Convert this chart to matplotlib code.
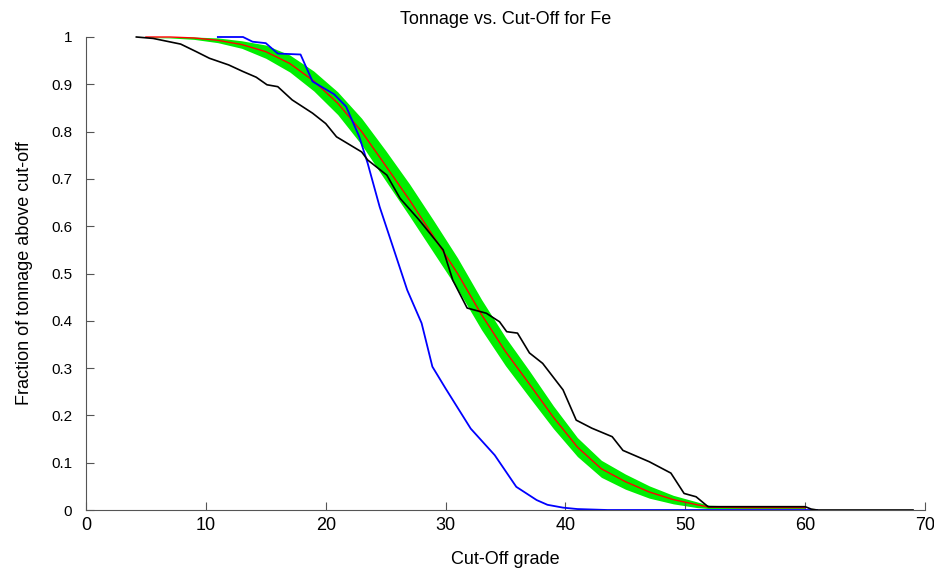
import matplotlib
matplotlib.use("Agg")
import matplotlib.pyplot as plt
from matplotlib import font_manager

# model curve (red) and its simulation band (green)
model_x = [5, 7, 9, 11, 13, 15, 17, 19, 21, 23, 25, 27, 29, 31, 33, 35, 37, 39,
           41, 43, 45, 47, 49, 51, 52, 55, 60]
model_y = [1.000, 1.000, 0.998, 0.993, 0.984, 0.969, 0.944, 0.907, 0.860, 0.800,
           0.728, 0.655, 0.578, 0.500, 0.413, 0.335, 0.266, 0.196, 0.133, 0.087,
           0.060, 0.038, 0.022, 0.011, 0.006, 0.005, 0.005]
band_hi = [1.000, 1.000, 1.000, 0.998, 0.992, 0.983, 0.962, 0.928, 0.884, 0.828,
           0.760, 0.689, 0.612, 0.533, 0.445, 0.365, 0.294, 0.220, 0.153, 0.105,
           0.076, 0.051, 0.031, 0.017, 0.010, 0.008, 0.008]
band_lo = [0.999, 0.998, 0.995, 0.988, 0.976, 0.955, 0.926, 0.886, 0.836, 0.772,
           0.696, 0.621, 0.544, 0.467, 0.381, 0.305, 0.238, 0.172, 0.113, 0.069,
           0.044, 0.025, 0.013, 0.005, 0.003, 0.003, 0.003]

# first data set (black)
black_x = [4.2, 5.6, 7.9, 9.2, 10.3, 11.1, 11.9, 13.1, 14.2, 15.1, 16.0, 17.2,
           18.9, 20.0, 20.9, 23.0, 23.5, 25.1, 26.2, 27.8, 29.8, 30.6, 31.8, 33.4,
           34.5, 35.1, 36.0, 37.0, 38.1, 39.8, 40.9, 42.2, 43.9, 44.8, 47.0, 48.8,
           49.9, 50.9, 51.9, 60.0, 60.5, 61.0, 69.0]
black_y = [1.000, 0.997, 0.985, 0.969, 0.955, 0.948, 0.941, 0.927, 0.915, 0.899,
           0.895, 0.867, 0.839, 0.817, 0.789, 0.757, 0.740, 0.708, 0.659, 0.613,
           0.550, 0.486, 0.427, 0.416, 0.398, 0.377, 0.374, 0.332, 0.310, 0.254,
           0.190, 0.173, 0.155, 0.126, 0.102, 0.078, 0.035, 0.028, 0.007, 0.007,
           0.002, 0.000, 0.000]

# second data set (blue)
blue_x = [11.0, 13.1, 13.9, 15.0, 16.0, 17.9, 18.9, 20.7, 21.7, 22.8, 23.5, 24.5,
          25.6, 26.8, 28.0, 28.9, 30.0, 32.1, 34.1, 35.9, 37.6, 38.5, 39.8, 41.0,
          43.5, 61.0]
blue_y = [1.000, 1.000, 0.990, 0.987, 0.965, 0.963, 0.906, 0.879, 0.853, 0.789,
          0.733, 0.641, 0.557, 0.465, 0.395, 0.303, 0.257, 0.172, 0.116, 0.049,
          0.021, 0.011, 0.005, 0.002, 0.000, 0.000]

x_ticks = [0, 10, 20, 30, 40, 50, 60, 70]
y_ticks = [0, 0.1, 0.2, 0.3, 0.4, 0.5, 0.6, 0.7, 0.8, 0.9, 1]
y_tick_labels = ["0", "0.1", "0.2", "0.3", "0.4", "0.5", "0.6", "0.7", "0.8", "0.9", "1"]

names = {f.name for f in font_manager.fontManager.ttflist}
narrow = "Liberation Sans Narrow" if "Liberation Sans Narrow" in names else "Liberation Sans"
plt.rcParams["font.family"] = ["Liberation Sans", "DejaVu Sans"]

fig = plt.figure(figsize=(9.34, 5.70), dpi=100)
ax = fig.add_axes([86 / 934, 60 / 570, 839 / 934, 473 / 570])

ax.fill_between(model_x, band_lo, band_hi, color="#00ee00", lw=0, clip_on=False)
ax.plot(model_x, model_y, color="#ff0000", lw=1.0, clip_on=False)
ax.plot(blue_x, blue_y, color="#0000ff", lw=1.3, clip_on=False)
ax.plot(black_x, black_y, color="black", lw=1.2, clip_on=False)

ax.set_xlim(0, 70)
ax.set_ylim(0, 1)
ax.set_xticks(x_ticks)
ax.set_yticks(y_ticks)
ax.set_yticklabels(y_tick_labels)
for s in ["top", "right"]:
    ax.spines[s].set_visible(False)
for s in ["left", "bottom"]:
    ax.spines[s].set_color("#555555")
ax.tick_params(direction="in", length=6, color="#555555")
ax.tick_params(axis="y", labelsize=11, pad=10)
ax.tick_params(axis="x", labelsize=13, pad=5)
for lab in ax.get_xticklabels():
    lab.set_family(narrow)

ax.set_title("Tonnage vs. Cut-Off for Fe", fontsize=13, pad=9)
ax.set_xlabel("Cut-Off grade", fontsize=13, labelpad=12)
ax.set_ylabel("Fraction of tonnage above cut-off", fontsize=13, labelpad=13)

fig.savefig("out.png", dpi=100)
